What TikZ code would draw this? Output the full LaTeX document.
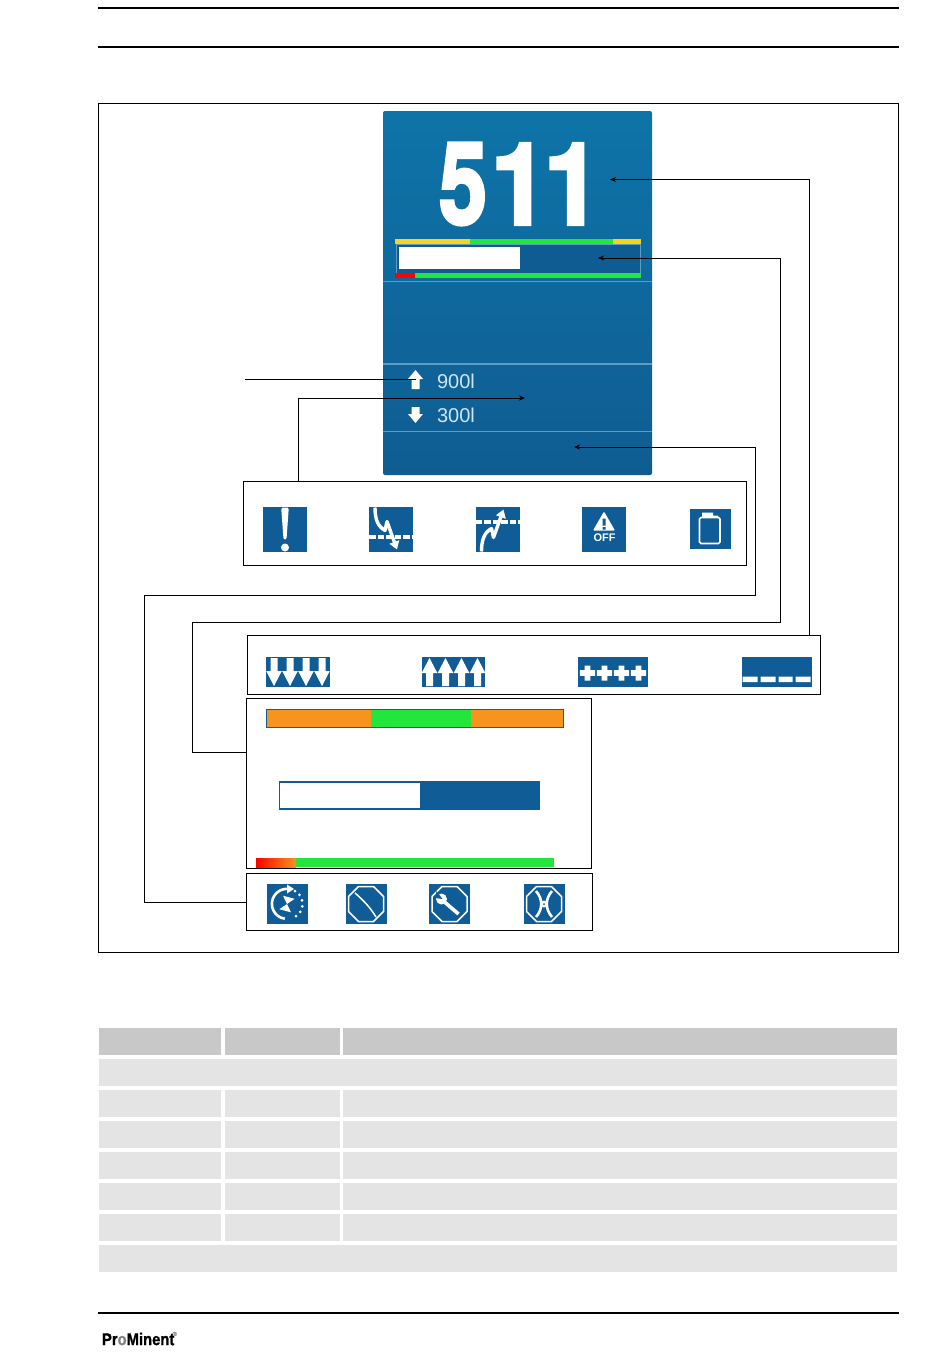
\documentclass[tikz,border=0pt]{standalone}
\usepackage{fontspec}
\setmainfont{Liberation Sans}
\newfontfamily\heavyfont[BoldFeatures={FakeBold=3}]{TeX Gyre Heros}
\newfontfamily\logofont[FakeBold=1.2]{Liberation Sans Bold}
\usetikzlibrary{positioning,arrows.meta}
\definecolor{dispTop}{HTML}{0E74A8}
\definecolor{dispBot}{HTML}{0F5C92}
\definecolor{icoBlue}{HTML}{0F5C96}
\definecolor{barGreen}{HTML}{22E63C}
\definecolor{barYellow}{HTML}{F4D51E}
\definecolor{barOrange}{HTML}{F7941E}
\definecolor{paleBlue}{HTML}{5F9DBF}
\definecolor{readBlue}{HTML}{CFE6F0}
\definecolor{thHead}{HTML}{C8C8C8}
\definecolor{thRow}{HTML}{E4E4E4}

\begin{document}
\begin{tikzpicture}[x=1pt, y=-1pt, inner sep=0pt, outer sep=0pt,
  panel/.style={draw, line width=1.1pt, fill=white},
  ico/.style={fill=icoBlue},
  arr/.style={line width=.9pt, -{Stealth[length=6pt,width=5pt]}},
  lead/.style={line width=.9pt},
  rule/.style={line width=1.8pt},
  sepline/.style={paleBlue, line width=1.6pt},
  digit/.style={white, font=\heavyfont\bfseries\fontsize{114}{114}\selectfont},
  hda/.style={fill=thHead, minimum width=122pt, minimum height=27.5pt},
  hdb/.style={fill=thHead, minimum width=115pt, minimum height=27.5pt},
  hdc/.style={fill=thHead, minimum width=554pt, minimum height=27.5pt},
  cella/.style={fill=thRow, minimum width=122pt, minimum height=27.5pt},
  cellb/.style={fill=thRow, minimum width=115pt, minimum height=27.5pt},
  cellc/.style={fill=thRow, minimum width=554pt, minimum height=27.5pt},
  cellw/.style={fill=thRow, minimum width=798pt, minimum height=27.5pt},
  read/.style={text=readBlue, font=\fontsize{20}{20}\selectfont},
  wh/.style={white, line width=1.5pt},
  pics/dnarrow/.style={code={\fill[white] (-3.5,-14) -- (-3.5,-1) -- (-7.8,-1) -- (0,14) -- (7.8,-1) -- (3.5,-1) -- (3.5,-14) -- cycle;}},
  pics/plusg/.style={code={\fill[white] (-7.6,-2.8) rectangle (7.6,2.8) (-2.8,-7.5) rectangle (2.8,7.5);}},
  pics/octa/.style={code={\draw[wh] (-7.5,-17.5) -- (7.5,-17.5) -- (17.5,-7.5) -- (17.5,7.5) -- (7.5,17.5) -- (-7.5,17.5) -- (-17.5,7.5) -- (-17.5,-7.5) -- cycle;}},
  pics/trend/.style={code={
    \draw[white, line width=3.6pt, dash pattern=on 6.5pt off 2pt] (-22,7.5) -- (22,7.5);
    \draw[white, line width=3.4pt, line join=round, -{Triangle[length=8pt,width=10pt]}]
      (-16,-22) .. controls (-16,-10) and (-13,-3) .. (-6,1) -- (-4,-8) -- (6,20);}}]
\useasboundingbox (0,0) rectangle (950,1360);

% page rules
\coordinate (ruleal) at (98,8);
\coordinate (ruleab) at (899,8);
\coordinate (rulebl) at (98,47);
\coordinate (rulebb) at (899,47);
\coordinate (rulecl) at (98,1313);
\coordinate (rulecb) at (899,1313);
\draw[rule] (ruleal) -- (ruleab);
\draw[rule] (rulebl) -- (rulebb);
\draw[rule] (rulecl) -- (rulecb);
\node[draw, line width=.8pt, minimum width=800pt, minimum height=849pt] (frame) at (498.5,527.5) {};

% display
\node[shade, top color=dispTop, bottom color=dispBot, rounded corners=2pt, minimum width=269pt, minimum height=364pt] (disp) at (517.5,293) {};
\node[digit] (bigfive) at (463,184) {\scalebox{.76}[1]{5}};
\node[digit] (bigonea) at (519.5,184) {\scalebox{.9}[1]{1}};
\node[digit] (bigoneb) at (572.5,184) {\scalebox{.9}[1]{1}};
\fill[barGreen] (395,238.5) rectangle (641,244);
\fill[barYellow] (395,238.5) rectangle (470,244);
\fill[barYellow] (613,238.5) rectangle (641,244);
\node[draw=paleBlue, fill=dispBot, line width=1pt, minimum width=244pt, minimum height=30pt] (barbox) at (518,259) {};
\node[fill=white, minimum width=121pt, minimum height=22pt] (barfill) at (459.5,258) {};
\fill[barGreen] (395,272.5) rectangle (641,278);
\fill[red] (395,272.5) rectangle (415,278);
\draw[sepline, line width=1pt] (383,281.5) -- (652,281.5);
\draw[sepline] (383,364) -- (652,364);
\draw[sepline] (383,431.5) -- (652,431.5);
\node[read] (upval) at (456,381) {900l};
\node[read] (dnval) at (456,415) {300l};
\fill[white] (415.5,370) -- (423,379) -- (419.5,379) -- (419.5,389) -- (411.5,389) -- (411.5,379) -- (408,379) -- cycle;
\fill[white] (415.5,423) -- (423,414) -- (419.5,414) -- (419.5,407) -- (411.5,407) -- (411.5,414) -- (408,414) -- cycle;

% lower boxes
\node[panel, minimum width=503pt, minimum height=84pt] (alarms) at (495,523.5) {};
\node[panel, minimum width=573pt, minimum height=59pt] (limits) at (534,665) {};
\node[panel, minimum width=345pt, minimum height=170pt] (gauges) at (419,783.5) {};
\node[panel, minimum width=346pt, minimum height=57pt] (status) at (419.5,902) {};

% alarm icons
\node[ico, minimum width=44pt, minimum height=45pt] (warn) at (285,529.5) {};
\node[ico, minimum width=44pt, minimum height=45pt] (lowal) at (391,529.5) {};
\node[ico, minimum width=44pt, minimum height=45pt] (highal) at (497.5,529.5) {};
\node[ico, minimum width=44pt, minimum height=45pt] (offal) at (604,529.5) {};
\node[ico, minimum width=41pt, minimum height=40pt] (canis) at (710,528.5) {};
\begin{scope}[shift={(warn.center)}]
\fill[white, rounded corners=1.5pt] (-3.8,-22) -- (3.8,-22) -- (1.5,10) -- (-1.5,10) -- cycle;
\fill[white] (0,18) circle (4);
\end{scope}
\pic at (lowal.center) {trend};
\pic[yscale=-1] at (highal.center) {trend};
\begin{scope}[shift={(offal.center)}]
\fill[white, rounded corners=1pt] (0,-18) -- (11,1) -- (-11,1) -- cycle;
\fill[icoBlue] (-1.5,-11) rectangle (1.5,-4) (-1.5,-2.5) rectangle (1.5,0);
\end{scope}
\node[white, font=\bfseries\fontsize{11}{11}\selectfont] (offtxt) at (604.5,538) {OFF};
\begin{scope}[shift={(canis.center)}]
\draw[white, line width=1.6pt, rounded corners=1.5pt] (-10.5,-11) -- (-10.5,15) -- (10,15) -- (10,-11) -- cycle;
\fill[white] (-8,-16) -- (3,-16) -- (3,-13) -- (8,-13) -- (8,-11) -- (-8,-11) -- cycle;
\end{scope}

% limit icons
\node[ico, minimum width=64pt, minimum height=30pt] (dnico) at (298,672) {};
\node[ico, minimum width=63pt, minimum height=30pt] (upico) at (453.5,672) {};
\node[ico, minimum width=70pt, minimum height=30pt] (plusico) at (613,672) {};
\node[ico, minimum width=70pt, minimum height=30pt] (minusico) at (776.5,672) {};
\begin{scope}[shift={(dnico.center)}]
\pic at (-24,0) {dnarrow};
\pic at (-8,0) {dnarrow};
\pic at (8,0) {dnarrow};
\pic at (24,0) {dnarrow};
\end{scope}
\begin{scope}[shift={(upico.center)}]
\pic[yscale=-1] at (-24,0) {dnarrow};
\pic[yscale=-1] at (-8,0) {dnarrow};
\pic[yscale=-1] at (8,0) {dnarrow};
\pic[yscale=-1] at (24,0) {dnarrow};
\end{scope}
\begin{scope}[shift={(plusico.center)}]
\pic at (-25.5,1) {plusg};
\pic at (-8.5,1) {plusg};
\pic at (8.5,1) {plusg};
\pic at (25.5,1) {plusg};
\end{scope}
\begin{scope}[shift={(minusico.center)}]
\fill[white] (-34,4.5) rectangle (-19,10) (-16,4.5) rectangle (-1,10) (2,4.5) rectangle (16,10) (19,4.5) rectangle (34,10);
\end{scope}

% gauges
\node[draw=icoBlue, fill=barOrange, line width=.8pt, minimum width=297pt, minimum height=18pt] (bartop) at (414.5,718) {};
\node[fill=barGreen, minimum width=100pt, minimum height=17pt] (bartopg) at (421,718) {};
\node[draw=icoBlue, fill=icoBlue, line width=1pt, minimum width=260pt, minimum height=28pt] (barmid) at (409.5,795) {};
\node[fill=white, minimum width=140pt, minimum height=25pt] (barmidw) at (350,795) {};
\node[fill=barGreen, minimum width=298pt, minimum height=9pt] (barlow) at (405,862.5) {};
\node[left color=red, right color=barOrange, minimum width=40pt, minimum height=9pt] (barlowr) at (276,862.5) {};

% status icons
\node[ico, minimum width=41pt, minimum height=40pt] (pauseico) at (287,904) {};
\node[ico, minimum width=41pt, minimum height=40pt] (noflow) at (366,904) {};
\node[ico, minimum width=41pt, minimum height=40pt] (service) at (449.5,904) {};
\node[ico, minimum width=41pt, minimum height=40pt] (stopico) at (544,904) {};
\begin{scope}[shift={(pauseico.center)}]
\draw[white, line width=2.6pt] (2,-15) arc[start angle=-82, end angle=-262, radius=15];
\fill[white] (0,-19.5) -- (7,-15) -- (0,-10.5) -- cycle;
\draw[white, line width=3pt, line cap=round, dash pattern=on 0pt off 6pt] (8,-13) arc[start angle=-60, end angle=62, radius=15];
\fill[white, rotate=-15] (-6,-7) -- (6,-7) -- (-6,7) -- (6,7) -- cycle;
\end{scope}
\begin{scope}[shift={(noflow.center)}]
\pic at (0,0) {octa};
\draw[wh] (-11,-11) .. controls (-3,-4) and (4,3) .. (10,13);
\end{scope}
\begin{scope}[shift={(service.center)}]
\pic at (0,0) {octa};
\draw[white, line width=3.6pt] (-5,-2) -- (9,10);
\fill[white] (-8,-5) circle (5.5);
\fill[icoBlue] (-13,-13) -- (-7,-5) -- (-14,-6) -- cycle;
\end{scope}
\begin{scope}[shift={(stopico.center)}]
\pic at (0,0) {octa};
\draw[white, line width=2.6pt] (-8,-13) .. controls (-1,-5) and (-1,5) .. (-8,13);
\draw[white, line width=2.6pt] (8,-13) .. controls (1,-5) and (1,5) .. (8,13);
\fill[white] (0,0) circle (3.5);
\fill[icoBlue] (0,0) circle (1);
\end{scope}

% connectors
\coordinate (bigtip) at (610,179.5);
\coordinate (bartip) at (598,258);
\coordinate (statustip) at (574,447);
\coordinate (limtip) at (525,398);
\coordinate (uptip) at (416,379);
\coordinate (limitsout) at (809,635);
\coordinate (gaugeout) at (246.5,752);
\coordinate (alarmout) at (298.5,481);
\coordinate (upout) at (245,379);
\coordinate (gaugea) at (192,622);
\coordinate (gaugeb) at (780,258);
\coordinate (statusa) at (144.5,595);
\coordinate (statusb) at (755.5,447);
\draw[arr] (limitsout) |- (bigtip);
\draw[arr] (gaugeout) -| (gaugea) -| (gaugeb) -- (bartip);
\draw[arr] (status.west) -| (statusa) -| (statusb) -- (statustip);
\draw[arr] (alarmout) |- (limtip);
\draw[lead] (upout) -- (uptip);

% table
\node[hda] (h1) at (160,1041.25) {};
\node[hdb, right=3.5pt of h1] (h2) {};
\node[hdc, right=3.5pt of h2] (h3) {};
\node[cellw, below right=3.5pt and 0pt of h1.south west] (r0) {};
\node[cella, below right=3.5pt and 0pt of r0.south west] (r1a) {};
\node[cellb, right=3.5pt of r1a] (r1b) {};
\node[cellc, right=3.5pt of r1b] (r1c) {};
\node[cella, below=3.5pt of r1a] (r2a) {};
\node[cellb, right=3.5pt of r2a] (r2b) {};
\node[cellc, right=3.5pt of r2b] (r2c) {};
\node[cella, below=3.5pt of r2a] (r3a) {};
\node[cellb, right=3.5pt of r3a] (r3b) {};
\node[cellc, right=3.5pt of r3b] (r3c) {};
\node[cella, below=3.5pt of r3a] (r4a) {};
\node[cellb, right=3.5pt of r4a] (r4b) {};
\node[cellc, right=3.5pt of r4b] (r4c) {};
\node[cella, below=3.5pt of r4a] (r5a) {};
\node[cellb, right=3.5pt of r5a] (r5b) {};
\node[cellc, right=3.5pt of r5b] (r5c) {};
\node[cellw, below right=3.5pt and 0pt of r5a.south west] (r6) {};

% logo
\node[anchor=west, font=\logofont\fontsize{17}{17}\selectfont] (logo) at (102,1339) {\scalebox{.87}[1]{Pr{\color{gray}o}Minent}};
\node[anchor=west, font=\fontsize{6}{6}\selectfont] (logor) at (172.5,1334.5) {®};
\end{tikzpicture}
\end{document}
